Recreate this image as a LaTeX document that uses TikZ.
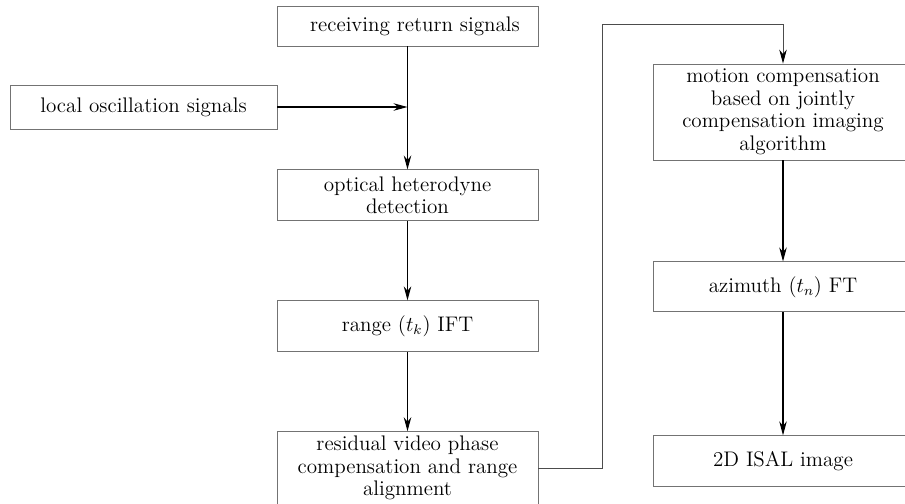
\documentclass[tikz,border=0pt]{standalone}
\usetikzlibrary{positioning, arrows.meta}

\begin{document}
\begin{tikzpicture}[
  node distance=1.58cm,
  box/.style={draw=black!55, line width=0.5pt, minimum width=5.22cm,
              minimum height=1.02cm, align=center, inner sep=2pt,
              font=\fontsize{12}{12.8}\selectfont},
  flow/.style={-{Stealth[length=2.8mm, width=1.5mm, color=black]}, line width=0.6pt},
  >=Stealth
]
  \useasboundingbox (0,0) rectangle (18.1,-10.06);

  % Left column
  \node[box, minimum height=0.8cm] (recv) at (8.15,-0.52)
    {\hspace*{0.3cm}receiving return signals};
  \node[box, minimum width=5.34cm, minimum height=0.88cm] (local) at (2.87,-2.14)
    {local oscillation signals};
  \node[box, below=2.46cm of recv] (het)
    {optical heterodyne\\detection};
  \node[box, below=of het] (ift) {range ($t_k$) IFT};
  \node[box, below=of ift, minimum height=1.46cm] (rvp)
    {residual video phase\\compensation and range\\alignment};

  % Right column
  \node[box, minimum width=5.2cm, minimum height=1.92cm] (mocomp) at (15.66,-2.24)
    {motion compensation\\based on jointly\\compensation imaging\\algorithm};
  \node[box, minimum width=5.2cm, minimum height=1.0cm, below=2.02cm of mocomp] (azft)
    {azimuth ($t_n$) FT};
  \node[box, minimum width=5.2cm, below=2.46cm of azft] (isal) {2D ISAL image};

  % Connectors
  \coordinate (mix) at (recv.south |- local.east);
  \coordinate (turn) at (12.04,-0.48);
  \draw[flow] (recv) -- (het);
  \draw[flow] (local) -- (mix);
  \draw[flow] (het) -- (ift);
  \draw[flow] (ift) -- (rvp);
  \draw[flow, line width=0.5pt, draw=black!70] (rvp.east) -| (turn) -| (mocomp.north);
  \draw[flow] (mocomp) -- (azft);
  \draw[flow] (azft) -- (isal);
\end{tikzpicture}
\end{document}
